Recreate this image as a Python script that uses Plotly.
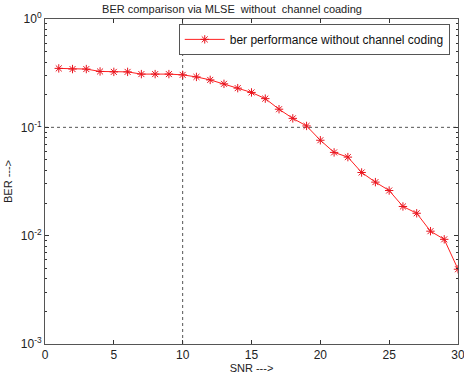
import plotly.graph_objects as go

snr = list(range(1, 31))
ber = [0.35, 0.345, 0.345, 0.328, 0.325, 0.325, 0.31, 0.31, 0.31, 0.305,
       0.292, 0.274, 0.252, 0.23, 0.21, 0.184, 0.147, 0.121, 0.103, 0.076,
       0.0587, 0.0531, 0.0383, 0.0312, 0.0261, 0.0186, 0.0161, 0.011, 0.00925, 0.0049]
xticks = [0, 5, 10, 15, 20, 25, 30]
yticks = [1e-3, 1e-2, 1e-1, 1e0]
ytext = ["10<sup>-3</sup>", "10<sup>-2</sup>", "10<sup>-1</sup>", "10<sup>0</sup>"]
yminor = [m * d for d in [1e-3, 1e-2, 1e-1] for m in range(2, 10)]

fig = go.Figure()
fig.add_trace(go.Scatter(
    x=snr, y=ber, mode="lines+markers",
    name="ber performance without channel coding",
    line=dict(color="#ff2020", width=1),
    marker=dict(symbol="asterisk-open", size=7, color="#e8141e",
                line=dict(color="#e8141e", width=1)),
))

# grid lines only at x=10 and y=0.1
fig.add_shape(type="line", xref="x", yref="paper", x0=10, x1=10, y0=0, y1=1,
              line=dict(color="#555555", width=1, dash="dot"), layer="below")
fig.add_shape(type="line", xref="paper", yref="y", x0=0, x1=1, y0=0.1, y1=0.1,
              line=dict(color="#555555", width=1, dash="dot"), layer="below")

font = dict(family="Arial, Liberation Sans", color="#222222")
axis_common = dict(showline=True, linecolor="#555555", linewidth=1, mirror="ticks",
                   ticks="inside", tickcolor="#333333", ticklen=4, showgrid=False,
                   zeroline=False, automargin=False, ticklabeloverflow="allow",
                   tickfont=dict(size=12, **font))

fig.update_layout(
    width=464, height=376,
    margin=dict(l=45, r=6, t=19, b=32),
    paper_bgcolor="white", plot_bgcolor="white",
    title=dict(text="BER comparison via MLSE  without  channel coading",
               x=0.5, xanchor="center", y=0.985, yanchor="top",
               font=dict(size=11, **font)),
    xaxis=dict(range=[0, 30], tickvals=xticks,
               title=dict(text="SNR --->", standoff=1, font=dict(size=11, **font)),
               **axis_common),
    yaxis=dict(type="log", range=[-3, 0], tickvals=yticks, ticktext=ytext,
               minor=dict(ticks="inside", ticklen=2, tickcolor="#333333",
                          tickvals=yminor, showgrid=False),
               title=dict(text="BER --->", standoff=5, font=dict(size=11, **font)),
               **axis_common),
    legend=dict(x=0.98, y=0.985, xanchor="right", yanchor="top",
                bgcolor="white", bordercolor="#555555", borderwidth=1,
                itemwidth=40, tracegroupgap=0,
                font=dict(size=12, color="#111111", family="Arial, Liberation Sans")),
    showlegend=True,
)

fig.write_html("out.html", config={"displayModeBar": False},
               post_script="document.body.style.margin='0';document.body.style.overflow='hidden';")
